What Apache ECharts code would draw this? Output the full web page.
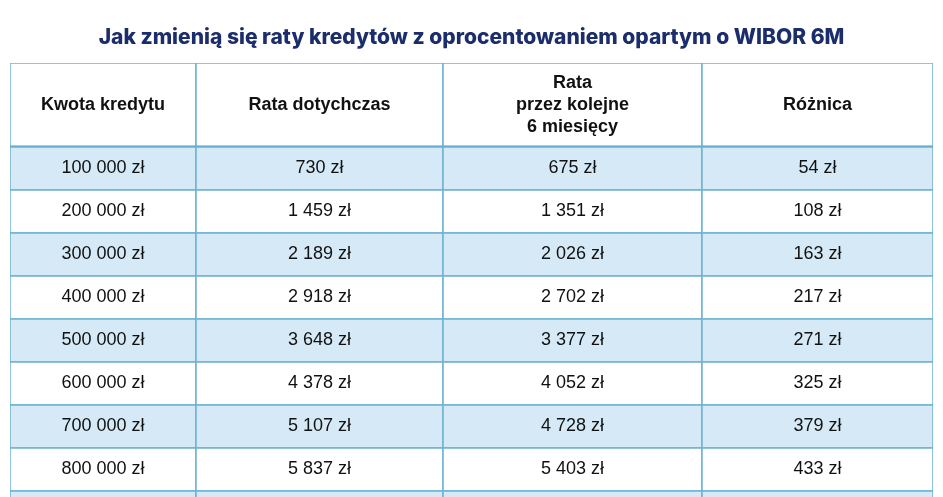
<!DOCTYPE html>
<html><head><meta charset="utf-8">
<script src="https://cdn.jsdelivr.net/npm/echarts@6/dist/echarts.min.js"></script>
<style>html,body{margin:0;background:#fff}#c{width:943px;height:497px}</style>
</head><body><div id="c"></div>
<script>
var headers = ['Kwota kredytu', 'Rata dotychczas', 'Rata\nprzez kolejne\n6 miesięcy', 'Różnica'];
var kwota = ['100 000 zł', '200 000 zł', '300 000 zł', '400 000 zł', '500 000 zł', '600 000 zł', '700 000 zł', '800 000 zł', ''];
var rataDotychczas = ['730 zł', '1 459 zł', '2 189 zł', '2 918 zł', '3 648 zł', '4 378 zł', '5 107 zł', '5 837 zł', ''];
var rataNowa = ['675 zł', '1 351 zł', '2 026 zł', '2 702 zł', '3 377 zł', '4 052 zł', '4 728 zł', '5 403 zł', ''];
var roznica = ['54 zł', '108 zł', '163 zł', '217 zł', '271 zł', '325 zł', '379 zł', '433 zł', ''];

// layout (pixels inside the grid)
var colEdges = [0, 186, 433, 692, 923];
var headerH = 84, rowH = 43;

var columns = [kwota, rataDotychczas, rataNowa, roznica];
var cells = [];
headers.forEach(function (h, c) { cells.push([c, -1, h]); });
kwota.forEach(function (v, r) {
  columns.forEach(function (col, c) { cells.push([c, r, col[r]]); });
});

var chart = echarts.init(document.getElementById('c'));
chart.setOption({
  animation: false,
  title: {
    text: 'Jak zmienią się raty kredytów z oprocentowaniem opartym o WIBOR 6M',
    left: 'center', top: 22,
    textStyle: { color: '#1b2d6b', fontSize: 21, fontWeight: 800, fontFamily: 'Inter' }
  },
  grid: { left: 10, top: 63, width: 923, height: 434 },
  xAxis: { type: 'value', min: 0, max: 923, show: false },
  yAxis: { type: 'value', min: 0, max: 434, inverse: true, show: false },
  series: [{
    type: 'custom',
    clip: true,
    data: cells,
    renderItem: function (params, api) {
      var c = api.value(0), r = api.value(1);
      var y0 = r < 0 ? 0 : headerH + r * rowH;
      var y1 = r < 0 ? headerH : y0 + rowH;
      var p0 = api.coord([colEdges[c], y0]);
      var p1 = api.coord([colEdges[c + 1], y1]);
      var fill = (r >= 0 && r % 2 === 0) ? '#d5eaf6' : '#ffffff';
      var children = [{
        type: 'rect',
        shape: { x: p0[0], y: p0[1], width: p1[0] - p0[0], height: p1[1] - p0[1] },
        style: { fill: fill, stroke: '#6fb3d1', lineWidth: 1.5 }
      }, {
        type: 'text',
        style: {
          text: cells[params.dataIndex][2],
          x: (p0[0] + p1[0]) / 2, y: (p0[1] + p1[1]) / 2,
          align: 'center', verticalAlign: 'middle',
          fontFamily: 'Liberation Sans', fontSize: 18,
          fontWeight: r < 0 ? 'bold' : 'normal',
          lineHeight: 22, fill: '#111'
        }
      }];
      if (r < 0) {
        children.push({
          type: 'line',
          shape: { x1: p0[0], y1: p1[1], x2: p1[0], y2: p1[1] },
          style: { stroke: '#4a9fc9', lineWidth: 3 }
        });
      }
      return { type: 'group', children: children };
    }
  }]
});
</script></body></html>
